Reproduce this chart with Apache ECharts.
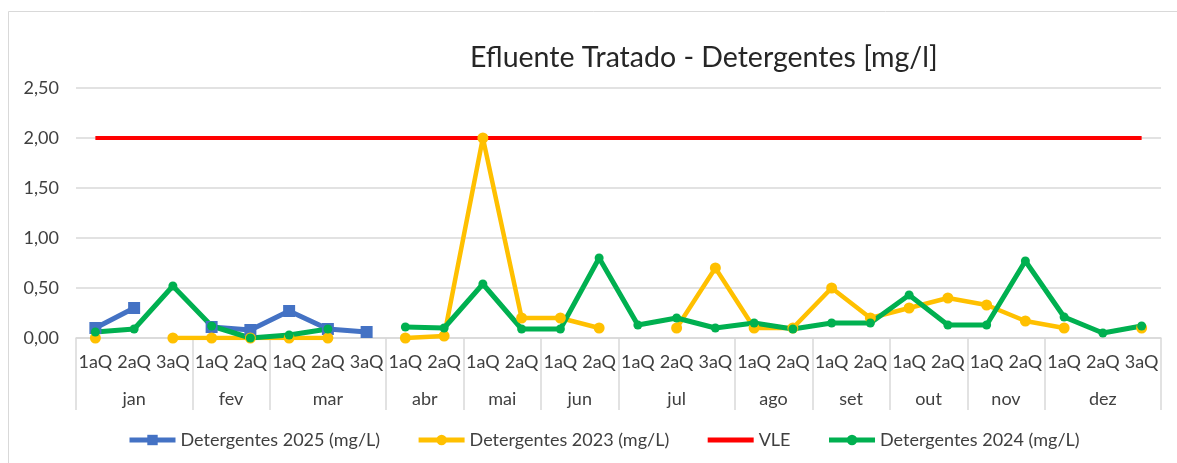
<!DOCTYPE html>
<html>
<head>
<meta charset="utf-8">
<title>Efluente Tratado - Detergentes</title>
<script src="https://cdn.jsdelivr.net/npm/echarts@6/dist/echarts.min.js"></script>
<style>
  html, body { margin: 0; padding: 0; background: #fff; }
  #chart { width: 1177px; height: 463px; }
</style>
</head>
<body>
<div id="chart"></div>
<script>
// months and how many fortnights (quinzenas) each one has
const months = ['jan', 'fev', 'mar', 'abr', 'mai', 'jun', 'jul', 'ago', 'set', 'out', 'nov', 'dez'];
const monthCounts = [3, 2, 3, 2, 2, 2, 3, 2, 2, 2, 2, 3];
const subLabels = ['1aQ', '2aQ', '3aQ'];
const yTicks = [0, 0.5, 1, 1.5, 2, 2.5];

const det2025 = [0.10, 0.30, null, 0.11, 0.08, 0.27, 0.09, 0.06,
  null, null, null, null, null, null, null, null, null, null, null, null,
  null, null, null, null, null, null, null, null];
const det2023 = [0.00, null, 0.00, 0.00, 0.00, 0.00, 0.00, null,
  0.00, 0.02, 2.00, 0.20, 0.20, 0.10, null, 0.10, 0.70, 0.10, 0.10, 0.50,
  0.20, 0.30, 0.40, 0.33, 0.17, 0.10, null, 0.10];
const vle = [2, 2, 2, 2, 2, 2, 2, 2, 2, 2, 2, 2, 2, 2,
  2, 2, 2, 2, 2, 2, 2, 2, 2, 2, 2, 2, 2, 2];
const det2024 = [0.06, 0.09, 0.52, 0.12, 0.00, 0.03, 0.09, null,
  0.11, 0.10, 0.54, 0.09, 0.09, 0.80, 0.13, 0.20, 0.10, 0.15, 0.09, 0.15,
  0.15, 0.43, 0.13, 0.13, 0.77, 0.21, 0.05, 0.12];

// flat category list + month boundaries / centres for the second axis row
const categories = [];
const monthEdges = [0];
const monthCenters = [];
monthCounts.forEach((n, m) => {
  const start = monthEdges[monthEdges.length - 1];
  for (let i = 0; i < n; i++) categories.push(months[m] + ' ' + subLabels[i]);
  monthEdges.push(start + n);
  monthCenters.push(start + n / 2);
});

const font = 'Lato, "Open Sans", sans-serif';
const textColor = '#404040';
const gridColor = '#d9d9d9';

const chart = echarts.init(document.getElementById('chart'));

function lineSeries(name, data, color, symbol, size, width) {
  return {
    name: name,
    type: 'line',
    data: data,
    symbol: symbol,
    symbolSize: size,
    showSymbol: size > 0,
    showAllSymbol: true,
    lineStyle: { color: color, width: width },
    itemStyle: { color: color },
    emphasis: { disabled: true },
  };
}

chart.setOption({
  animation: false,
  backgroundColor: '#fff',
  title: {
    text: 'Efluente Tratado - Detergentes [mg/l]',
    left: 470,
    top: 43,
    padding: 0,
    textStyle: { fontFamily: font, fontSize: 28.5, fontWeight: 'normal', color: '#262626' },
  },
  graphic: [{
    type: 'rect',
    shape: { x: 8.5, y: 11.5, width: 1300, height: 600 },
    style: { fill: null, stroke: gridColor, lineWidth: 1 },
    silent: true,
  }],
  legend: {
    left: 127,
    top: 431,
    padding: 0,
    itemWidth: 46,
    itemHeight: 13,
    itemGap: 36,
    lineStyle: { width: 5 },
    textStyle: { fontFamily: font, fontSize: 18, color: textColor },
    data: [
      'Detergentes 2025 (mg/L)',
      'Detergentes 2023 (mg/L)',
      { name: 'VLE', itemStyle: { opacity: 0 } },
      'Detergentes 2024 (mg/L)',
    ],
  },
  grid: { left: 76, right: 16, top: 88, bottom: 125 },
  xAxis: [{
    type: 'category',
    data: categories,
    position: 'bottom',
    axisLine: { lineStyle: { color: gridColor, width: 1.5 } },
    axisTick: { show: false },
    axisLabel: {
      interval: 0,
      margin: 15,
      fontFamily: font,
      fontSize: 18,
      color: textColor,
      formatter: v => v.split(' ')[1],
    },
  }, {
    type: 'value',
    min: 0,
    max: categories.length,
    position: 'bottom',
    axisLine: { show: false },
    splitLine: { show: false },
    axisTick: {
      show: true,
      length: 72,
      customValues: monthEdges,
      lineStyle: { color: gridColor, width: 1.5 },
    },
    axisLabel: {
      margin: 52,
      customValues: monthCenters,
      fontFamily: font,
      fontSize: 18,
      color: textColor,
      formatter: v => months[monthCenters.indexOf(v)],
    },
  }],
  yAxis: {
    type: 'value',
    min: yTicks[0],
    max: yTicks[yTicks.length - 1],
    interval: 0.5,
    axisLine: { show: false },
    axisTick: { show: false },
    splitLine: { lineStyle: { color: gridColor, width: 1.5 } },
    axisLabel: {
      margin: 17,
      fontFamily: font,
      fontSize: 18,
      color: textColor,
      formatter: v => v.toFixed(2).replace('.', ','),
    },
  },
  series: [
    lineSeries('Detergentes 2025 (mg/L)', det2025, '#4472c4', 'rect', 12, 5),
    lineSeries('Detergentes 2023 (mg/L)', det2023, '#ffc000', 'circle', 11, 4.5),
    lineSeries('VLE', vle, '#ff0000', 'none', 0, 4),
    lineSeries('Detergentes 2024 (mg/L)', det2024, '#00b050', 'circle', 9, 5),
  ],
});
</script>
</body>
</html>
